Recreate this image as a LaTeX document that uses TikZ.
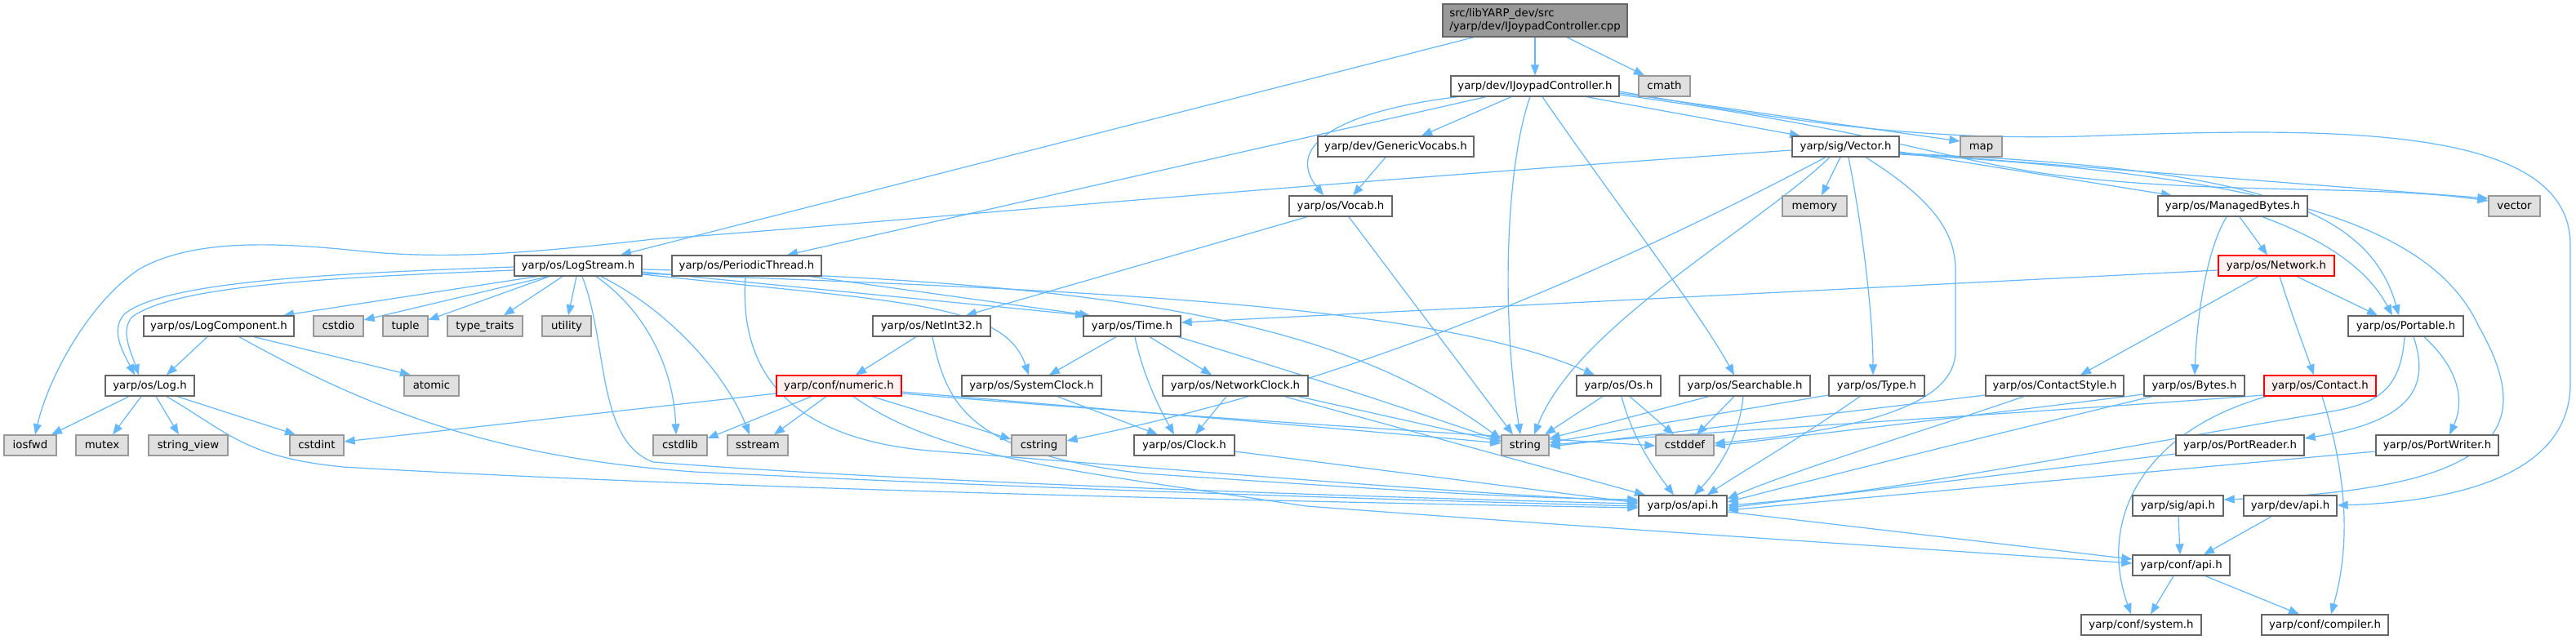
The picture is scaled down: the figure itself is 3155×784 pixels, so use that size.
\documentclass[tikz,border=0pt]{standalone}
\usepackage{fontspec}
\setmainfont{DejaVu Sans}
\usetikzlibrary{arrows.meta}
\definecolor{edgec}{HTML}{63B8FF}
\definecolor{bord}{HTML}{666666}
\definecolor{gbord}{HTML}{999999}
\definecolor{gfill}{HTML}{E0E0E0}
\definecolor{rootfill}{HTML}{999999}
\definecolor{redfill}{HTML}{FFF0F0}
\pgfdeclarelayer{bg}
\pgfsetlayers{bg,main}
\tikzset{
  nb/.style={draw=bord, fill=white, line width=1.3pt, inner sep=0pt, minimum height=25pt,
    text height=10.5pt, text depth=2.5pt, font=\fontsize{13.3}{15.5}\selectfont},
  gb/.style={nb, draw=gbord, fill=gfill},
  rb/.style={nb, draw=red, fill=redfill},
  rootb/.style={draw=bord, fill=rootfill, line width=1.3pt, inner sep=0pt, minimum height=40pt,
    align=left, font=\fontsize{13.3}{15.5}\selectfont},
  e/.style={draw=edgec, line width=1.2pt, -{Triangle[length=13pt,width=10pt]}, fill=none},
}
\begin{document}
\begin{tikzpicture}[x=1pt,y=-1pt]
\useasboundingbox (0,0) rectangle (3155,784);
\begin{pgfonlayer}{bg}
\fill[white] (0,0) rectangle (3155,784);
\end{pgfonlayer}
% row 0
\node[rootb, minimum width=226pt] (root) at (1880,25) {src/libYARP\_dev/src\\/yarp/dev/IJoypadController.cpp};
% row 1
\node[nb, minimum width=206pt] (ijc) at (1880,105.5) {yarp/dev/IJoypadController.h};
\node[gb, minimum width=63pt] (cmath) at (2038.5,105.5) {cmath};
% row 2
\node[nb, minimum width=191pt] (gv) at (1709.5,179.5) {yarp/dev/GenericVocabs.h};
\node[nb, minimum width=131pt] (vec) at (2260.5,179.5) {yarp/sig/Vector.h};
\node[gb, minimum width=51pt] (map) at (2426.5,179.5) {map};
% row 3
\node[nb, minimum width=126pt] (vocab) at (1642,252.5) {yarp/os/Vocab.h};
\node[gb, minimum width=79pt] (memory) at (2222.5,252.5) {memory};
\node[nb, minimum width=183pt] (mb) at (2734.5,252.5) {yarp/os/ManagedBytes.h};
\node[gb, minimum width=63pt] (vector) at (3079.5,252.5) {vector};
% row 4
\node[nb, minimum width=156pt] (ls) at (708,325.5) {yarp/os/LogStream.h};
\node[nb, minimum width=183pt] (pt) at (914.5,325.5) {yarp/os/PeriodicThread.h};
\node[rb, minimum width=142pt] (net) at (2788,325.5) {yarp/os/Network.h};
% row 5
\node[nb, minimum width=184pt] (lc) at (268,399.5) {yarp/os/LogComponent.h};
\node[gb, minimum width=61pt] (cstdio) at (414.5,399.5) {cstdio};
\node[gb, minimum width=55pt] (tuple) at (496.5,399.5) {tuple};
\node[gb, minimum width=92pt] (tt) at (594,399.5) {type\_traits};
\node[gb, minimum width=60pt] (utility) at (694,399.5) {utility};
\node[nb, minimum width=144pt] (ni) at (1141,399.5) {yarp/os/NetInt32.h};
\node[nb, minimum width=119pt] (time) at (1386.5,399.5) {yarp/os/Time.h};
\node[nb, minimum width=141pt] (portable) at (2946.5,399.5) {yarp/os/Portable.h};
% row 6
\node[nb, minimum width=109pt] (log) at (183.5,472.5) {yarp/os/Log.h};
\node[gb, minimum width=67pt] (atomic) at (528.5,472.5) {atomic};
\node[rb, minimum width=153pt] (num) at (1027.5,472.5) {yarp/conf/numeric.h};
\node[nb, minimum width=171pt] (sc) at (1263.5,472.5) {yarp/os/SystemClock.h};
\node[nb, minimum width=178pt] (nc) at (1513,472.5) {yarp/os/NetworkClock.h};
\node[nb, minimum width=103pt] (os) at (1982.5,472.5) {yarp/os/Os.h};
\node[nb, minimum width=160pt] (search) at (2137,472.5) {yarp/os/Searchable.h};
\node[nb, minimum width=117pt] (type) at (2298.5,472.5) {yarp/os/Type.h};
\node[nb, minimum width=169pt] (cs) at (2516.5,472.5) {yarp/os/ContactStyle.h};
\node[nb, minimum width=123pt] (bytes) at (2687.5,472.5) {yarp/os/Bytes.h};
\node[rb, minimum width=137pt] (contact) at (2841.5,472.5) {yarp/os/Contact.h};
% row 7
\node[gb, minimum width=64pt] (iosfwd) at (37,545.5) {iosfwd};
\node[gb, minimum width=64pt] (mutex) at (125,545.5) {mutex};
\node[gb, minimum width=97pt] (sv) at (230.5,545.5) {string\_view};
\node[gb, minimum width=66pt] (cstdint) at (388,545.5) {cstdint};
\node[gb, minimum width=66pt] (cstdlib) at (833,545.5) {cstdlib};
\node[gb, minimum width=74pt] (sstream) at (928,545.5) {sstream};
\node[gb, minimum width=67pt] (cstring) at (1272.5,545.5) {cstring};
\node[nb, minimum width=123pt] (clock) at (1450.5,545.5) {yarp/os/Clock.h};
\node[gb, minimum width=58pt] (string) at (1868,545.5) {string};
\node[gb, minimum width=71pt] (cstddef) at (2063.5,545.5) {cstddef};
\node[nb, minimum width=157pt] (pr) at (2743.5,545.5) {yarp/os/PortReader.h};
\node[nb, minimum width=150pt] (pw) at (2985,545.5) {yarp/os/PortWriter.h};
% row 8
\node[nb, minimum width=108pt] (osapi) at (2061,619.5) {yarp/os/api.h};
\node[nb, minimum width=111pt] (sigapi) at (2667.5,619.5) {yarp/sig/api.h};
\node[nb, minimum width=114pt] (devapi) at (2805,619.5) {yarp/dev/api.h};
% row 9
\node[nb, minimum width=119pt] (confapi) at (2671.5,692.5) {yarp/conf/api.h};
% row 10
\node[nb, minimum width=147pt] (system) at (2622.5,765.5) {yarp/conf/system.h};
\node[nb, minimum width=155pt] (compiler) at (2847.5,765.5) {yarp/conf/compiler.h};

\begin{pgfonlayer}{bg}
% root
\draw[e] (1805,0 |- root.south) -- (760,0 |- ls.north);
\draw[e] (root.south) -- (ijc.north);
\draw[e] (1919,0 |- root.south) -- (2014,0 |- cmath.north);
% IJoypadController.h
\draw[e] (1785,0 |- ijc.south) .. controls (1650,135) and (1570,175) .. (1621,0 |- vocab.north);
\draw[e] (1820,0 |- ijc.south) -- (964,0 |- pt.north);
\draw[e] (1851,0 |- ijc.south) -- (1741,0 |- gv.north);
\draw[e] (1874,0 |- ijc.south) .. controls (1845,200) and (1838,380) .. (1862,0 |- string.north);
\draw[e] (1889,0 |- ijc.south) .. controls (1980,250) and (2080,380) .. (2124,0 |- search.north);
\draw[e] (1943,0 |- ijc.south) -- (2205,0 |- vec.north);
\draw[e] (ijc.east |- 0,114) -- (map.west |- 0,173);
\draw[e] (ijc.east |- 0,116) .. controls (2300,160) and (2360,190) .. (2500,212) .. controls (2700,240) and (2900,225) .. (vector.west |- 0,246);
\draw[e] (ijc.east |- 0,112) .. controls (2200,150) and (2350,172) .. (2550,167) .. controls (2850,156) and (3148,150) .. (3148,300) -- (3148,470) .. controls (3148,585) and (3000,615) .. (devapi.east |- 0,619);
% Vector.h
\draw[e] (vec.west |- 0,184) .. controls (1500,232) and (1000,280) .. (800,293) .. controls (650,310) and (550,318) .. (446,308) .. controls (350,298) and (240,290) .. (170,330) .. controls (110,370) and (60,460) .. (43,0 |- iosfwd.north);
\draw[e] (2236,0 |- vec.south) .. controls (1900,370) and (1600,480) .. (cstring.east |- 0,540);
\draw[e] (2241,0 |- vec.south) .. controls (2150,280) and (1930,400) .. (1879,0 |- string.north);
\draw[e] (2254,0 |- vec.south) -- (2231,0 |- memory.north);
\draw[e] (2264,0 |- vec.south) .. controls (2285,300) and (2294,400) .. (2294,0 |- type.north);
\draw[e] (2285,0 |- vec.south) .. controls (2360,240) and (2395,280) .. (2395,330) -- (2395,430) .. controls (2395,490) and (2300,525) .. (cstddef.east |- 0,543);
\draw[e] (vec.east |- 0,186) -- (2660,0 |- mb.north);
\draw[e] (vec.east |- 0,187) -- (vector.west |- 0,243);
\draw[e] (vec.east |- 0,188) .. controls (2750,205) and (2900,250) .. (2938,0 |- portable.north);
\draw[e] (vec.east |- 0,189) .. controls (2800,215) and (2980,280) .. (3036,400) .. controls (3110,530) and (3060,600) .. (sigapi.east |- 0,612);
% GenericVocabs / Vocab
\draw[e] (1697,0 |- gv.south) -- (1657,0 |- vocab.north);
\draw[e] (1601,0 |- vocab.south) -- (1183,0 |- ni.north);
\draw[e] (1652,0 |- vocab.south) -- (1853,0 |- string.north);
% PeriodicThread
\draw[e] (992,0 |- pt.south) -- (1335,0 |- time.north);
\draw[e] (913,0 |- pt.south) .. controls (905,450) and (960,540) .. (1150,553) .. controls (1500,580) and (1800,605) .. (osapi.west |- 0,614);
% LogStream
\draw[e] (658,0 |- ls.south) -- (347,0 |- lc.north);
\draw[e] (671,0 |- ls.south) -- (cstdio.east |- 0,392);
\draw[e] (673,0 |- ls.south) -- (tuple.east |- 0,392);
\draw[e] (689,0 |- ls.south) -- (617,0 |- tt.north);
\draw[e] (706,0 |- ls.south) -- (696,0 |- utility.north);
\draw[e] (713,0 |- ls.south) .. controls (745,420) and (730,540) .. (800,566) .. controls (1100,590) and (1700,610) .. (osapi.west |- 0,617);
\draw[e] (730,0 |- ls.south) .. controls (790,380) and (825,450) .. (828,0 |- cstdlib.north);
\draw[e] (736,0 |- ls.south) .. controls (820,380) and (890,460) .. (918,0 |- sstream.north);
\draw[e] (ls.west |- 0,327) .. controls (400,335) and (200,345) .. (152,385) .. controls (135,405) and (150,430) .. (165,0 |- log.north);
\draw[e] (ls.west |- 0,331) .. controls (400,340) and (215,350) .. (162,388) .. controls (147,405) and (160,430) .. (170,0 |- log.north);
\draw[e] (ls.east |- 0,333) -- (1330,0 |- time.north);
\draw[e] (ls.east |- 0,336) .. controls (1100,370) and (1230,370) .. (1260,0 |- sc.north);
\draw[e] (ls.east |- 0,330) .. controls (1400,345) and (1650,400) .. (string.west |- 0,538);
\draw[e] (ls.east |- 0,335) .. controls (1300,355) and (1750,370) .. (1953,0 |- os.north);
% LogComponent
\draw[e] (254,0 |- lc.south) -- (204,0 |- log.north);
\draw[e] (311,0 |- lc.south) -- (503,0 |- atomic.north);
\draw[e] (293,0 |- lc.south) .. controls (450,500) and (600,560) .. (850,578) .. controls (1300,600) and (1700,612) .. (osapi.west |- 0,620);
% Log
\draw[e] (158,0 |- log.south) -- (63,0 |- iosfwd.north);
\draw[e] (173,0 |- log.south) -- (138,0 |- mutex.north);
\draw[e] (191,0 |- log.south) -- (219,0 |- sv.north);
\draw[e] (217,0 |- log.south) -- (362,0 |- cstdint.north);
\draw[e] (204,0 |- log.south) .. controls (280,530) and (300,560) .. (420,572) .. controls (900,600) and (1600,615) .. (osapi.west |- 0,622);
% NetInt32
\draw[e] (1122,0 |- ni.south) -- (1048,0 |- num.north);
\draw[e] (1142,0 |- ni.south) .. controls (1160,500) and (1190,555) .. (1400,580) .. controls (1700,600) and (1850,610) .. (osapi.west |- 0,612);
% numeric
\draw[e] (num.west |- 0,482) -- (cstdint.east |- 0,541);
\draw[e] (994,0 |- num.south) -- (cstdlib.east |- 0,537);
\draw[e] (1012,0 |- num.south) -- (948,0 |- sstream.north);
\draw[e] (1068,0 |- num.south) -- (cstring.west |- 0,538);
\draw[e] (1045,0 |- num.south) .. controls (1150,560) and (1300,575) .. (1600,620) .. controls (2000,650) and (2400,675) .. (confapi.west |- 0,690);
\draw[e] (num.east |- 0,480) .. controls (1400,505) and (1700,530) .. (string.west |- 0,543);
\draw[e] (num.east |- 0,482) .. controls (1500,515) and (1850,535) .. (cstddef.west |- 0,546);
% clocks / time
\draw[e] (1295,0 |- sc.south) -- (1418,0 |- clock.north);
\draw[e] (1367,0 |- time.south) -- (1285,0 |- sc.north);
\draw[e] (1408,0 |- time.south) -- (1484,0 |- nc.north);
\draw[e] (1390,0 |- time.south) .. controls (1400,460) and (1420,500) .. (1438,0 |- clock.north);
\draw[e] (1443,0 |- time.south) .. controls (1600,460) and (1750,510) .. (string.west |- 0,540);
\draw[e] (1502,0 |- nc.south) -- (1464,0 |- clock.north);
\draw[e] (1590,0 |- nc.south) -- (string.west |- 0,541);
\draw[e] (1573,0 |- nc.south) -- (2015,0 |- osapi.north);
\draw[e] (clock.east |- 0,553) -- (osapi.west |- 0,616);
% Os, Searchable, Type
\draw[e] (1963,0 |- os.south) -- (1892,0 |- string.north);
\draw[e] (1996,0 |- os.south) -- (2050,0 |- cstddef.north);
\draw[e] (1986,0 |- os.south) .. controls (2000,540) and (2030,580) .. (2050,0 |- osapi.north);
\draw[e] (2093,0 |- search.south) -- (string.east |- 0,537);
\draw[e] (2124,0 |- search.south) -- (2078,0 |- cstddef.north);
\draw[e] (2135,0 |- search.south) .. controls (2130,540) and (2100,580) .. (2075,0 |- osapi.north);
\draw[e] (type.west |- 0,484) -- (string.east |- 0,542);
\draw[e] (2278,0 |- type.south) .. controls (2200,540) and (2130,580) .. (2091,0 |- osapi.north);
% Network, ManagedBytes
\draw[e] (net.west |- 0,331) -- (time.east |- 0,395);
\draw[e] (2766,0 |- net.south) -- (2548,0 |- cs.north);
\draw[e] (2792,0 |- net.south) .. controls (2805,380) and (2820,420) .. (2834,0 |- contact.north);
\draw[e] (2813,0 |- net.south) -- (2912,0 |- portable.north);
\draw[e] (2743,0 |- mb.south) -- (2777,0 |- net.north);
\draw[e] (2771,0 |- mb.south) .. controls (2850,295) and (2900,330) .. (2930,0 |- portable.north);
\draw[e] (2727,0 |- mb.south) .. controls (2700,310) and (2690,400) .. (2688,0 |- bytes.north);
% ContactStyle, Bytes, Contact
\draw[e] (cs.west |- 0,484) .. controls (2300,500) and (2050,530) .. (string.east |- 0,547);
\draw[e] (2479,0 |- cs.south) .. controls (2350,530) and (2200,575) .. (osapi.east |- 0,611);
\draw[e] (bytes.west |- 0,483) .. controls (2450,505) and (2200,535) .. (cstddef.east |- 0,546);
\draw[e] (2636,0 |- bytes.south) .. controls (2450,530) and (2250,580) .. (osapi.east |- 0,615);
\draw[e] (contact.west |- 0,484) .. controls (2500,505) and (2100,528) .. (string.east |- 0,545);
\draw[e] (2776,0 |- contact.south) .. controls (2620,530) and (2570,640) .. (2610,0 |- system.north);
\draw[e] (2844,0 |- contact.south) .. controls (2880,600) and (2875,680) .. (2855,0 |- compiler.north);
% Portable
\draw[e] (2945,0 |- portable.south) .. controls (2940,480) and (2910,495) .. (2850,505) .. controls (2500,565) and (2300,605) .. (osapi.east |- 0,619);
\draw[e] (2956,0 |- portable.south) .. controls (2975,470) and (2960,515) .. (pr.east |- 0,537);
\draw[e] (2969,0 |- portable.south) .. controls (3020,460) and (3015,500) .. (3000,0 |- pw.north);
\draw[e] (pr.west |- 0,556) -- (osapi.east |- 0,622);
\draw[e] (pw.west |- 0,553) -- (osapi.east |- 0,625);
% api
\draw[e] (osapi.east |- 0,627) -- (confapi.west |- 0,685);
\draw[e] (2668,0 |- sigapi.south) -- (2670,0 |- confapi.north);
\draw[e] (2782,0 |- devapi.south) -- (2699,0 |- confapi.north);
\draw[e] (2662,0 |- confapi.south) -- (2634,0 |- system.north);
\draw[e] (2701,0 |- confapi.south) -- (2816,0 |- compiler.north);
\end{pgfonlayer}
\end{tikzpicture}
\end{document}
